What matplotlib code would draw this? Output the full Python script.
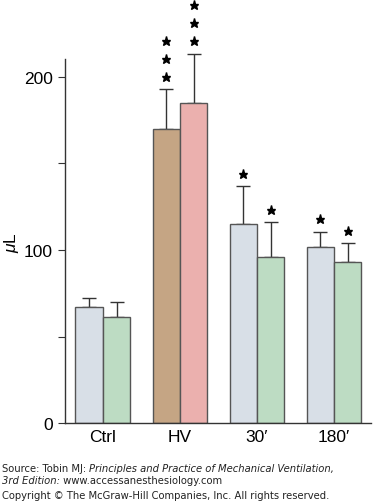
import matplotlib
matplotlib.use("Agg")
import matplotlib.pyplot as plt
import numpy as np

# data
groups = ["Ctrl", "HV", "30\u2032", "180\u2032"]
left_vals = [67, 170, 115, 101.5]
left_err = [5, 23, 22, 9]
right_vals = [61, 185, 96, 93]
right_err = [9, 28, 20, 11]
left_colors = ["#d8dfe7", "#c5a584", "#d8dfe7", "#d8dfe7"]
right_colors = ["#bddcc3", "#ebb0ae", "#bddcc3", "#bddcc3"]
# star heights (in µL units) above each bar
left_stars = [[], [199.5, 210, 220.5], [144], [118]]
right_stars = [[], [220.5, 231, 241.5], [123], [111]]

plt.rcParams['font.family'] = ['Liberation Sans', 'DejaVu Sans']
plt.rcParams['mathtext.fontset'] = 'custom'
plt.rcParams['mathtext.it'] = 'Liberation Sans:italic'
plt.rcParams['mathtext.rm'] = 'Liberation Sans'

fig = plt.figure(figsize=(3.76, 5.02), dpi=100)
ax = fig.add_axes([0.173, 0.155, 0.814, 0.725])

x = np.arange(len(groups))
w = 0.355
edge = "#555555"
ax.bar(x - w / 2, left_vals, w, color=left_colors, edgecolor=edge, linewidth=1.0, zorder=2)
ax.bar(x + w / 2, right_vals, w, color=right_colors, edgecolor=edge, linewidth=1.0, zorder=2)
ax.errorbar(x - w / 2, left_vals, yerr=[np.zeros(4), left_err], fmt='none',
            ecolor="#333333", elinewidth=1.0, capsize=5, capthick=1.0, clip_on=False, zorder=1)
ax.errorbar(x + w / 2, right_vals, yerr=[np.zeros(4), right_err], fmt='none',
            ecolor="#333333", elinewidth=1.0, capsize=5, capthick=1.0, clip_on=False, zorder=1)

for i in range(len(groups)):
    for s in left_stars[i]:
        ax.plot(x[i] - w / 2, s, marker='*', color='black', markersize=6.5, clip_on=False)
    for s in right_stars[i]:
        ax.plot(x[i] + w / 2, s, marker='*', color='black', markersize=6.5, clip_on=False)

ax.set_xlim(-0.49, 3.48)
ax.set_ylim(0, 210)
ax.spines['top'].set_visible(False)
ax.spines['right'].set_visible(False)
for sp in ['left', 'bottom']:
    ax.spines[sp].set_color("#333333")
    ax.spines[sp].set_linewidth(1.0)
ax.set_yticks([0, 100, 200])
ax.set_yticks([50, 150], minor=True)
ax.tick_params(axis='y', which='both', length=5, width=0.8, color="#333333", labelsize=12.5, pad=4)
ax.set_xticks(x)
ax.set_xticklabels(groups)
ax.tick_params(axis='x', length=0, labelsize=12.5, pad=4)
ax.set_ylabel(r"$\mathit{\mu}$L", fontsize=12.5, labelpad=2)

# source lines with mixed italic
fs = 7.2
fig.canvas.draw()
r = fig.canvas.get_renderer()

def line(parts, y):
    xpos = 2 / 376
    for txt, st in parts:
        t = fig.text(xpos, y, txt, fontsize=fs, style=st, family='DejaVu Sans', va='baseline', color='#222222')
        bb = t.get_window_extent(renderer=r)
        xpos += bb.width / fig.bbox.width

line([("Source: Tobin MJ: ", 'normal'), ("Principles and Practice of Mechanical Ventilation,", 'italic')], 1 - 472 / 502)
line([("3rd Edition:", 'italic'), (" www.accessanesthesiology.com", 'normal')], 1 - 484 / 502)
line([("Copyright \u00a9 The McGraw-Hill Companies, Inc. All rights reserved.", 'normal')], 1 - 499 / 502)

fig.savefig("out.png", dpi=100)
